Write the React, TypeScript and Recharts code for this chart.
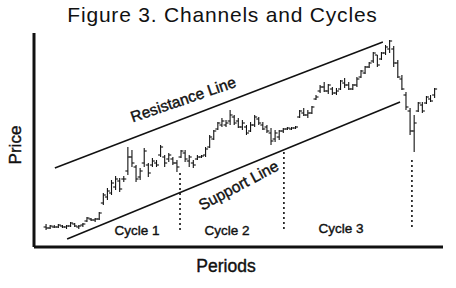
import { ComposedChart, Bar, XAxis, YAxis, ReferenceLine } from "recharts";

// price bars, one per period
const periods = [
  3, 4, 5, 6, 7, 8, 9, 10, 11, 12,
  13, 14, 15, 16, 17, 18, 19, 20, 21, 22,
  23, 24, 25, 26, 27, 28, 29, 30, 31, 32,
  33, 34, 35, 36, 37, 38, 39, 40, 41, 42,
  43, 44, 45, 46, 47, 48, 49, 50, 51, 52,
  53, 54, 55, 56, 57, 58, 59, 60, 61, 62,
  63, 64, 65, 66, 67, 68, 69, 70, 71, 72,
  73, 74, 75, 76, 77, 78, 79, 80, 81, 82,
  83, 84, 85, 86, 87, 88, 89, 90, 91, 92,
  93, 94, 95, 96, 97, 98,
];

const highs = [
  11.5, 11, 11, 11.5, 11, 11, 12.5, 12, 11, 12,
  15, 14.5, 14.5, 17.5, 27, 29.5, 33.5, 35.5, 34.5, 35.5,
  50, 48.5, 41, 39.5, 49.5, 42, 44.5, 43.5, 51, 46,
  47, 45, 43.5, 48.5, 48.5, 46, 43.5, 46, 46, 50,
  56, 58.5, 62.5, 64.5, 63.5, 68.5, 66, 64.5, 63.5, 61,
  62.5, 66, 65, 62.5, 61, 59.5, 58.5, 58.5, 59.5, 60,
  60, 60.5, 68.5, 69.5, 68.5, 70.5, 76, 81, 82.5, 81.5,
  80, 79.5, 83.5, 84.5, 82.5, 81.5, 85, 88.5, 90.5, 92.5,
  97.5, 96, 97.5, 101, 103.5, 100.5, 93.5, 86, 77.5, 69.5,
  66, 72.5, 72.5, 75.5, 76, 79.5,
];

const lows = [
  8.5, 9, 9.5, 9.5, 9.5, 9, 10, 10, 9, 10,
  12.5, 13, 12.5, 13.5, 21, 23.5, 26, 28.5, 27.5, 32.5,
  36, 40, 32.5, 33.5, 40, 35, 40, 40, 45, 40,
  42.5, 41, 37.5, 44.5, 42.5, 40, 39.5, 43.5, 44.5, 45,
  49.5, 53.5, 58.5, 60, 60, 61, 61, 59.5, 58.5, 56,
  57.5, 60, 61, 58.5, 57, 51, 52.5, 53.5, 57, 58.5,
  58.5, 59, 64.5, 65.5, 64.5, 66.5, 73.5, 77, 77.5, 76.5,
  76, 76, 78.5, 79.5, 78.5, 78.5, 80, 84.5, 86.5, 89.5,
  92, 90, 93.5, 96, 97, 90, 84.5, 78.5, 68.5, 56,
  47.5, 67.5, 67, 71.5, 72.5, 74.5,
];

const opens = [
  10, 9.5, 10, 10, 10.5, 10, 10.5, 11.5, 10, 11,
  13, 14, 13.5, 14, 22, 25, 27, 30, 33, 34,
  38, 45, 40, 35, 42, 41, 41, 42, 46, 45,
  44, 44, 42, 45, 47, 43, 42, 44, 45, 46,
  50, 54, 59, 61, 61, 63, 65, 63, 60, 60,
  58, 61, 64, 61, 60, 57, 54, 55, 58, 59,
  59, 59.5, 65, 67, 66, 67, 74, 78, 80, 78,
  79, 77, 79, 82, 81, 79, 81, 85, 87, 90,
  93, 96, 94, 97, 99, 99, 92, 84, 76, 68,
  58, 68, 71, 72, 74, 76,
];

const closes = [
  9.5, 10.5, 10, 11, 10, 10.5, 12, 10.5, 10.5, 11.5,
  14.5, 13.5, 14, 17, 26, 28, 32, 34, 29, 34,
  45, 42, 34, 38, 48, 37, 43, 41, 50, 42,
  46, 42, 40, 48, 44, 45, 41, 45, 45.5, 49,
  55, 58, 62, 63, 62, 66, 62, 60, 62, 57,
  61, 65, 62, 59, 58, 53, 57, 58, 59, 59.5,
  59.5, 60, 68, 66, 67, 70, 75, 80, 78, 81,
  77, 78, 83, 81, 79, 81, 84, 88, 90, 92,
  97, 91, 97, 100, 103, 92, 85, 79, 70, 58,
  62, 72, 68, 75, 73, 79,
];

// channel lines (period, price) endpoints
const resistance = [
  { x: 5.1, y: 39.5 },
  { x: 85.3, y: 102.5 },
];
const support = [
  { x: 8.1, y: 4 },
  { x: 89.5, y: 72.5 },
];

// dotted cycle boundaries
const cycleEnds = [35.7, 61.1, 92.4];
const cycleTops = [37, 47.5, 43.5];
const cycleBottom = 8.5;

const data = periods.map((p, i) => ({
  period: p,
  range: [lows[i], highs[i]],
  open: opens[i],
  close: closes[i],
}));

const ink = "#111";
const font = "'Liberation Sans', Arial, sans-serif";

const OhlcBar = (props: any) => {
  const { x, y, width, height, payload } = props;
  if (!payload) return null;
  const top = Math.min(y, y + height);
  const h = Math.abs(height);
  const [low, high] = payload.range;
  const toY = (v: number) =>
    high === low ? top : top + ((high - v) / (high - low)) * h;
  const cx = x + width / 2;
  const oy = toY(payload.open);
  const cy = toY(payload.close);
  return (
    <g stroke={ink} strokeWidth={1.1}>
      <line x1={cx} x2={cx} y1={top} y2={top + Math.max(h, 1)} />
      <line x1={cx - 2.5} x2={cx} y1={oy} y2={oy} />
      <line x1={cx} x2={cx + 2.5} y1={cy} y2={cy} />
    </g>
  );
};

export default function App() {
  return (
    <div
      style={{
        position: "absolute",
        left: 0,
        top: 0,
        width: 456,
        height: 288,
        background: "#fff",
      }}
    >
      <ComposedChart
        width={456}
        height={288}
        data={data}
        margin={{ top: 33, right: 13, bottom: 41, left: 34 }}
      >
        <XAxis type="number" dataKey="period" domain={[0, 100]} hide />
        <YAxis type="number" domain={[0, 107]} hide />
        <ReferenceLine x={0} stroke={ink} strokeWidth={3} />
        <ReferenceLine y={0} stroke={ink} strokeWidth={3} />
        <ReferenceLine segment={resistance} stroke={ink} strokeWidth={1.5} />
        <ReferenceLine segment={support} stroke={ink} strokeWidth={1.5} />
        {cycleEnds.map((c, i) => (
          <ReferenceLine
            key={c}
            segment={[
              { x: c, y: cycleTops[i] },
              { x: c, y: cycleBottom },
            ]}
            stroke={ink}
            strokeWidth={1.6}
            strokeDasharray="2 3"
          />
        ))}
        <Bar
          dataKey="range"
          barSize={5}
          shape={<OhlcBar />}
          isAnimationActive={false}
        />
      </ComposedChart>
      <svg
        width={456}
        height={288}
        style={{ position: "absolute", left: 0, top: 0, pointerEvents: "none" }}
        fontFamily={font}
        fill={ink}
      >
        <text x={222.5} y={22} fontSize={21} letterSpacing={0.8} textAnchor="middle">
          Figure 3. Channels and Cycles
        </text>
        {/* the scanned labels read heavier than plain regular weight */}
        <g stroke={ink} strokeWidth={0.4}>
          <text
            x={21}
            y={145}
            fontSize={17}
            textAnchor="middle"
            transform="rotate(-90 21 145)"
          >
            Price
          </text>
          <text x={226} y={272} fontSize={17.5} textAnchor="middle">
            Periods
          </text>
          <text x={137} y={235} fontSize={13.5} textAnchor="middle">
            Cycle 1
          </text>
          <text x={227} y={235} fontSize={13.5} textAnchor="middle">
            Cycle 2
          </text>
          <text x={341} y={233} fontSize={13.5} textAnchor="middle">
            Cycle 3
          </text>
          <text
            x={185}
            y={104.5}
            fontSize={15.5}
            textAnchor="middle"
            transform="rotate(-19 185 104.5)"
          >
            Resistance Line
          </text>
          <text
            x={241}
            y={190}
            fontSize={15.5}
            textAnchor="middle"
            transform="rotate(-28 241 190)"
          >
            Support Line
          </text>
        </g>
      </svg>
    </div>
  );
}
